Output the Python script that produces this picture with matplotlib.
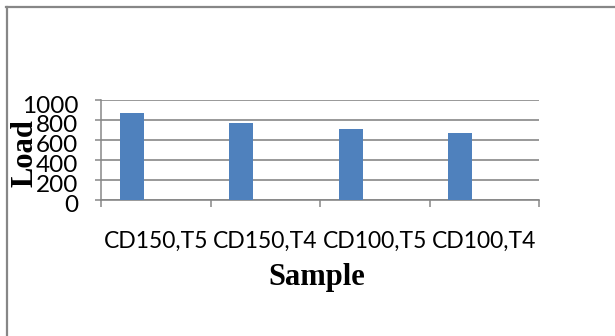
import numpy as np
import matplotlib
matplotlib.use("Agg")
import matplotlib.pyplot as plt
from matplotlib.lines import Line2D
import matplotlib.transforms as mtransforms

# data
samples = ["CD150,T5", "CD150,T4", "CD100,T5", "CD100,T4"]
load = [870, 768, 707, 670]
yticks = [0, 200, 400, 600, 800, 1000]

grey = "#878787"
bar_colour = "#4F81BD"

fig = plt.figure(figsize=(6.15, 3.36), dpi=100)
ax = fig.add_axes([101 / 615, 1 - 200 / 336, 438 / 615, 100 / 336])

x = np.arange(len(samples))
# bars sit on the left part of each category (like an Excel cluster)
ax.bar(x - 0.22, load, width=0.22, color=bar_colour, zorder=3)

ax.set_xlim(-0.5, len(samples) - 0.5)
ax.set_ylim(0, 1000)

# category boundary ticks (no labels) and labels at the category centres
ax.set_xticks(np.arange(-0.5, len(samples), 1.0))
ax.set_xticklabels([])
ax.set_xticks(x, minor=True)
ax.set_xticklabels(samples, minor=True, fontfamily="Lato", fontsize=16.5)
ax.tick_params(axis="x", which="major", length=5, width=1.1, color=grey, direction="out")
ax.tick_params(axis="x", which="minor", length=0, pad=22)

ax.set_yticks(yticks)
ax.set_yticklabels([str(v) for v in yticks], fontfamily="Lato", fontsize=17.5)
ax.tick_params(axis="y", length=4.5, width=1.1, color=grey, direction="out", pad=12)
shift = mtransforms.ScaledTranslation(0, -4 / 100, fig.dpi_scale_trans)
for lab in ax.get_yticklabels():
    lab.set_transform(lab.get_transform() + shift)

ax.grid(axis="y", color=grey, linewidth=1.2, zorder=0)
ax.set_axisbelow(True)

for side in ["top", "right"]:
    ax.spines[side].set_visible(False)
ax.spines["left"].set_color(grey)
ax.spines["left"].set_linewidth(1.1)
ax.spines["bottom"].set_color(grey)
ax.spines["bottom"].set_linewidth(1.2)

# axis titles
fig.text(317 / 615, 1 - 278 / 336, "Sample", ha="center", va="center",
         fontfamily="Liberation Serif", fontweight="bold", fontsize=22)
fig.text(25 / 615, 1 - 153 / 336, "Load", ha="center", va="center", rotation=90,
         fontfamily="Liberation Serif", fontweight="bold", fontsize=22)

# outer chart frame (cropped on the right and bottom)
fig.add_artist(Line2D([6 / 615, 1], [1 - 6.5 / 336, 1 - 6.5 / 336], color=grey, linewidth=1.6,
                      transform=fig.transFigure))
fig.add_artist(Line2D([6.5 / 615, 6.5 / 615], [0, 1 - 6.5 / 336], color=grey, linewidth=1.6,
                      transform=fig.transFigure))

fig.savefig("out.png", dpi=100)
